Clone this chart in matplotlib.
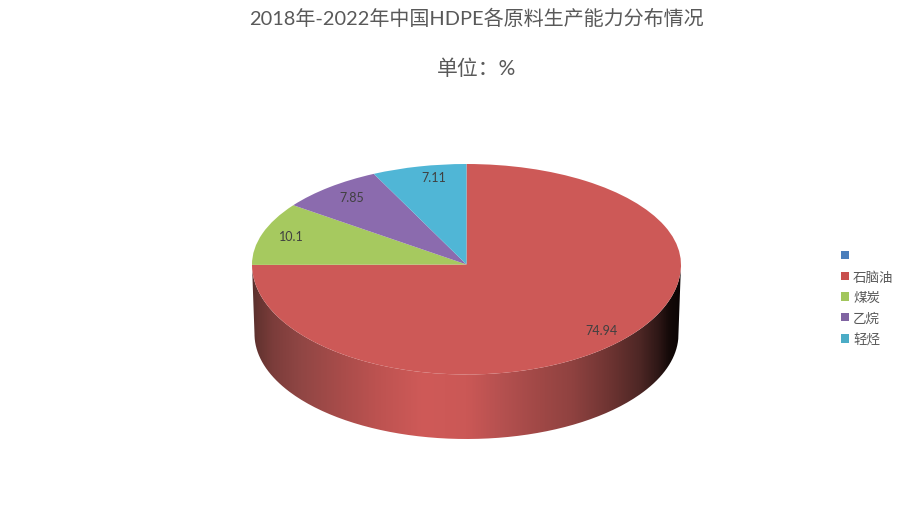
import numpy as np
import matplotlib
matplotlib.use("Agg")
import matplotlib.pyplot as plt
from matplotlib.patches import PathPatch, Patch
from matplotlib.path import Path
from matplotlib.colors import LinearSegmentedColormap

title = "2018年-2022年中国HDPE各原料生产能力分布情况"
unit = "单位：%"
categories = ["", "石脑油", "煤炭", "乙烷", "轻烃"]
values = [0, 74.94, 10.1, 7.85, 7.11]
value_labels = ["", "74.94", "10.1", "7.85", "7.11"]
colors = ["#4a7ebb", "#cd5957", "#a6c95f", "#8b6bae", "#50b6d6"]
legend_colors = ["#4a7ebb", "#c9504e", "#a2c65c", "#8064a2", "#4bacc6"]

W, H = 901, 510
FONT = ["Lato", "Noto Sans CJK SC", "DejaVu Sans"]
plt.rcParams["font.family"] = FONT

fig = plt.figure(figsize=(W / 100, H / 100), dpi=100, facecolor="white")
ax = fig.add_axes([0, 0, 1, 1])

# pie geometry in pixels
cx, cy = 466.5, H - 265.5
rx, ry_up, ry_dn = 214.5, 100.5, 110
depth_cy, depth_rx, depth_ry = H - 335, 212, 105

wedges, _ = ax.pie(values, colors=colors, startangle=90, counterclock=False,
                   radius=1, center=(0, 0))
for w, c in zip(wedges, colors):
    p = w.get_patch_transform().transform_path(w.get_path())
    v = p.vertices.copy()
    v[:, 1] = np.where(v[:, 1] > 0, v[:, 1] * ry_up, v[:, 1] * ry_dn) + cy
    v[:, 0] = v[:, 0] * rx + cx
    w.remove()
    ax.add_patch(PathPatch(Path(v, p.codes), facecolor=c, edgecolor="none", zorder=3))

# side wall
t = np.linspace(np.pi, 2 * np.pi, 200)
top = np.c_[cx + rx * np.cos(t), cy + ry_dn * np.sin(t)]
bot = np.c_[cx + depth_rx * np.cos(t), depth_cy + depth_ry * np.sin(t)]
poly = np.vstack([top, bot[::-1]])
wall = PathPatch(Path(poly, closed=False), facecolor="none", edgecolor="none", zorder=1)
ax.add_patch(wall)
xs0, xs1 = 252, 681
stops_x = [252, 258, 273, 300, 340, 380, 423, 467, 500, 540, 573, 610, 640, 660, 670, 681]
stops_c = ["#5a302e", "#663431", "#7c3d3b", "#904644", "#a84c4a", "#be5351", "#cf5a58",
           "#cb5856", "#b65150", "#a04846", "#8f4240", "#6e3432", "#4e2725", "#2c1615",
           "#140908", "#0c0505"]
cmap = LinearSegmentedColormap.from_list(
    "wall", [((x - xs0) / (xs1 - xs0), c) for x, c in zip(stops_x, stops_c)])
im = ax.imshow(np.linspace(0, 1, 512)[None, :], cmap=cmap, aspect="auto",
               extent=(xs0, xs1, H - 445, H - 260), zorder=2, interpolation="bilinear")
im.set_clip_path(wall)

ax.set_xlim(0, W)
ax.set_ylim(0, H)
ax.set_aspect("auto")
ax.axis("off")

# value labels
label_pos = [None, (602, 331), (291, 237), (352, 198), (434, 178)]
for lab, pos in zip(value_labels, label_pos):
    if pos:
        ax.text(pos[0], H - pos[1], lab, ha="center", va="center",
                fontsize=9, color="#404040", zorder=5)

# titles
fig.text(476.5 / W, 1 - 18 / H, title, ha="center", va="center", fontsize=14.45, color="#595959")
fig.text(476.5 / W, 1 - 69 / H, unit, ha="center", va="center", fontsize=15, color="#595959")

# legend
handles = [Patch(facecolor=c, edgecolor="none") for c in legend_colors]
ax.legend(handles, categories, loc="center left", bbox_to_anchor=(841 / W, 1 - 298.5 / H),
          frameon=False, fontsize=9.7, labelcolor="#595959", handlelength=0.6, handleheight=0.6,
          handletextpad=0.3, labelspacing=0.62, borderpad=0, borderaxespad=0)

fig.savefig("out.png", dpi=100, facecolor="white")
